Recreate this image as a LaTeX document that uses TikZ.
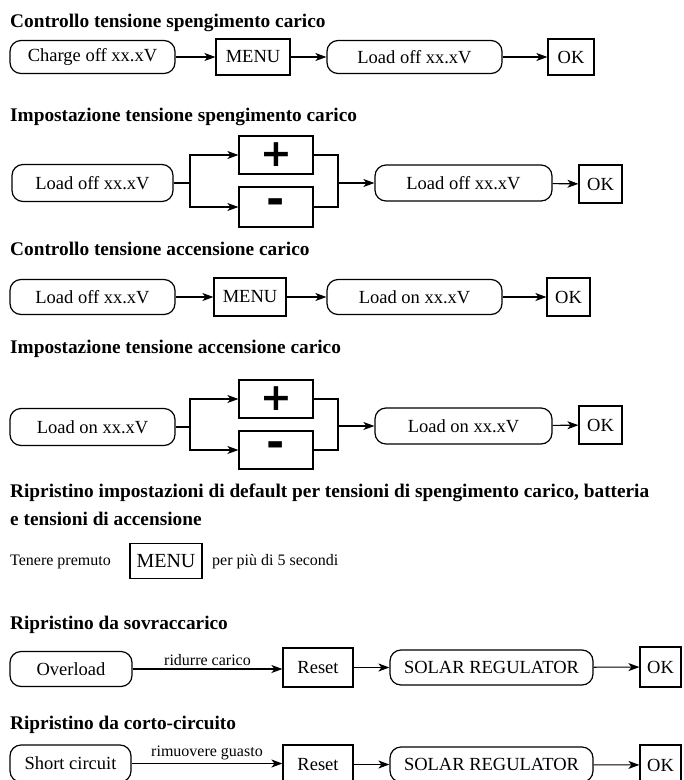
\documentclass[tikz,border=0pt]{standalone}
\usepackage{fontspec}
\setmainfont{Liberation Serif}
\newfontfamily\symfont{DejaVu Sans}
\usetikzlibrary{arrows.meta}
\newcommand\ttlfont{\fontsize{19.3}{23}\selectfont\bfseries}
\newcommand\boxfont{\fontsize{18.5}{22}\selectfont}
\newcommand\smallfont{\fontsize{16}{19}\selectfont}
\newcommand\plusfont{\fontsize{38}{38}\selectfont\symfont\bfseries}
\newcommand\minusfont{\fontsize{44}{44}\selectfont\symfont\bfseries}
\begin{document}
\begin{tikzpicture}[x=1pt,y=-1pt,
  rbox/.style={draw, rounded corners=11pt, line width=1.2pt, inner sep=0pt, font=\boxfont},
  sbox/.style={draw, line width=1.2pt, inner sep=0pt, font=\boxfont},
  ttl/.style={anchor=base west, inner sep=0pt, font=\ttlfont},
  small/.style={anchor=base west, inner sep=0pt, font=\smallfont},
  ln/.style={line width=1.1pt},
  arr/.style={line width=1.1pt, -{Stealth[length=11pt,width=8pt,inset=3pt]}},
  lbl/.style={above, inner sep=3pt, font=\smallfont}]
\useasboundingbox (0,0) rectangle (684,780);
\clip (0,0) rectangle (684,780);
\fill[white] (0,0) rectangle (684,780);

% ---- Section 1
\node[ttl] (t1) at (10,27) {Controllo tensione spengimento carico};
\node[rbox, minimum width=165pt, minimum height=33pt] (a1) at (92.5,57) {Charge off xx.xV};
\node[sbox, minimum width=74pt, minimum height=36pt] (m1) at (253,57) {MENU};
\node[rbox, minimum width=175pt, minimum height=33pt] (l1) at (414.5,57) {Load off xx.xV};
\node[sbox, minimum width=46pt, minimum height=36pt] (ok1) at (571,57) {OK};
\draw[arr] (a1) -- (m1);
\draw[arr] (m1) -- (l1);
\draw[arr] (l1) -- (ok1);

% ---- Section 2
\node[ttl] (t2) at (10,121) {Impostazione tensione spengimento carico};
\node[rbox, minimum width=161pt, minimum height=37pt] (a2) at (92.5,183) {Load off xx.xV};
\node[sbox, minimum width=74pt, minimum height=38pt, font=\plusfont] (p2) at (276,155) {+};
\node[sbox, minimum width=74pt, minimum height=40pt, font=\minusfont] (n2) at (276,207) {-};
\coordinate (s2) at (190,183);
\coordinate (j2) at (338,183);
\draw[ln] (a2.east) -- (s2);
\draw[arr] (s2) |- (p2.west);
\draw[arr] (s2) |- (n2.west);
\draw[ln] (p2.east) -| (j2);
\draw[ln] (n2.east) -| (j2);
\node[rbox, minimum width=177pt, minimum height=36pt] (l2) at (463.5,183) {Load off xx.xV};
\node[sbox, minimum width=43pt, minimum height=38pt] (ok2) at (600.5,184) {OK};
\draw[arr] (j2) -- (l2.west);
\draw[arr] (l2) -- (ok2);

% ---- Section 3
\node[ttl] (t3) at (10,255) {Controllo tensione accensione carico};
\node[rbox, minimum width=165pt, minimum height=35pt] (a3) at (92.5,297) {Load off xx.xV};
\node[sbox, minimum width=72pt, minimum height=38pt] (m3) at (250,297) {MENU};
\node[rbox, minimum width=175pt, minimum height=35pt] (l3) at (414.5,297) {Load on xx.xV};
\node[sbox, minimum width=43pt, minimum height=38pt] (ok3) at (568.5,297) {OK};
\draw[arr] (a3) -- (m3);
\draw[arr] (m3) -- (l3);
\draw[arr] (l3) -- (ok3);

% ---- Section 4
\node[ttl] (t4) at (10,353) {Impostazione tensione accensione carico};
\node[rbox, minimum width=165pt, minimum height=37pt] (a4) at (92.5,427) {Load on xx.xV};
\node[sbox, minimum width=74pt, minimum height=38pt, font=\plusfont] (p4) at (276,399) {+};
\node[sbox, minimum width=74pt, minimum height=38pt, font=\minusfont] (n4) at (276,450) {-};
\coordinate (s4) at (190,427);
\coordinate (j4) at (338,426);
\draw[ln] (a4.east) -- (s4);
\draw[arr] (s4) |- (p4.west);
\draw[arr] (s4) |- (n4.west);
\draw[ln] (p4.east) -| (j4);
\draw[ln] (n4.east) -| (j4);
\node[rbox, minimum width=177pt, minimum height=36pt] (l4) at (463.5,426) {Load on xx.xV};
\node[sbox, minimum width=43pt, minimum height=38pt] (ok4) at (600.5,425) {OK};
\draw[arr] (j4) -- (l4.west);
\draw[arr] (l4) -- (ok4);

% ---- Section 5
\node[ttl] (t5a) at (10,497) {Ripristino impostazioni di default per tensioni di spengimento carico, batteria};
\node[ttl] (t5b) at (10,525) {e tensioni di accensione};
\node[small] (tp) at (10,565) {Tenere premuto};
\node[sbox, minimum width=72pt, minimum height=35pt, font=\fontsize{20}{24}\selectfont] (m5) at (166,561) {MENU};
\node[small] (ps) at (212,565) {per più di 5 secondi};

% ---- Section 6
\node[ttl] (t6) at (10,629) {Ripristino da sovraccarico};
\node[rbox, minimum width=122pt, minimum height=35pt] (a6) at (71,669) {Overload};
\node[sbox, minimum width=70pt, minimum height=39pt] (r6) at (318,667.5) {Reset};
\node[rbox, minimum width=203pt, minimum height=35pt] (s6) at (491.5,667.5) {SOLAR REGULATOR};
\node[sbox, minimum width=41pt, minimum height=40pt] (ok6) at (660.5,667) {OK};
\draw[arr] (a6.east) -- node[lbl] {ridurre carico} (r6.west |- a6.east);
\draw[arr] (r6) -- (s6);
\draw[arr] (s6) -- (ok6);

% ---- Section 7
\node[ttl] (t7) at (10,729) {Ripristino da corto-circuito};
\node[rbox, minimum width=121pt, minimum height=37pt] (a7) at (70.5,763.5) {Short circuit};
\node[sbox, minimum width=70pt, minimum height=39pt] (r7) at (318,764.5) {Reset};
\node[rbox, minimum width=203pt, minimum height=35pt] (s7) at (491.5,764.5) {SOLAR REGULATOR};
\node[sbox, minimum width=41pt, minimum height=40pt] (ok7) at (660.5,765) {OK};
\draw[arr] (a7.east) -- node[lbl] {rimuovere guasto} (r7.west |- a7.east);
\draw[arr] (r7) -- (s7);
\draw[arr] (s7) -- (ok7);
\end{tikzpicture}
\end{document}
